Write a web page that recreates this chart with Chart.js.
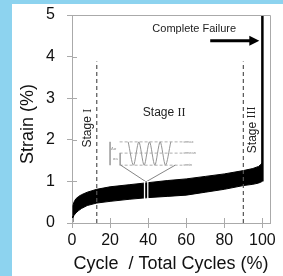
<!DOCTYPE html>
<html>
<head>
<meta charset="utf-8">
<script src="https://cdn.jsdelivr.net/npm/chart.js@4.4.1/dist/chart.umd.min.js"></script>
<style>
html, body { margin: 0; padding: 0; background: #8dd3ef; }
body { width: 283px; height: 276px; overflow: hidden; position: relative; }
#panel { position: absolute; left: 12px; top: 4px; width: 271px; height: 272px; background: #fff; }
</style>
</head>
<body>
<div id="panel"><canvas id="strain-chart" width="271" height="272" style="width:271px;height:272px"></canvas></div>
<script>
const FONT = "'Liberation Sans', Arial, sans-serif";

// band of strain (min / max of each cycle) vs life fraction
const cycles      = [0, 0.5, 1, 2, 3.5, 5, 8, 13, 20, 30, 40, 50, 60, 70, 80, 90, 95, 98, 99.5, 100];
const strainUpper = [0.15, 0.42, 0.5, 0.58, 0.64, 0.68, 0.74, 0.81, 0.87, 0.92, 0.97, 1.02, 1.06, 1.12, 1.18, 1.26, 1.31, 1.36, 1.42, 1.45];
const strainLower = [0.02, 0.12, 0.18, 0.24, 0.30, 0.35, 0.42, 0.48, 0.52, 0.57, 0.61, 0.64, 0.67, 0.74, 0.81, 0.90, 0.93, 0.96, 0.99, 1.0];

const failureCycle = [100, 100];
const failureStrain = [1.0, 5.0];

const stageBounds = [13, 90];
const stageLineTop = 3.88;

const xTicks = [0, 20, 40, 60, 80, 100];
const yTicks = [0, 1, 2, 3, 4, 5];

// little loading schematic
const insetLevels = [1.95, 1.68, 1.39];
const insetLabels = ['\u03c3max', '\u03c3mean', '\u03c3min'];
const insetSpan = [25, 58];
const waveCycle  = [29.5, 32.3, 35.1, 37.9, 40.7, 43.5, 46.3, 49.1, 51.9];
const waveStrain = [1.95, 1.39, 1.95, 1.39, 1.95, 1.39, 1.95, 1.39, 1.95];
const cutCycles = [38.1, 39.8];
const zoomApex = [38.9, 0.99];
const zoomEnds = [25.6, 54.2];

const arrowFrom = [72.6, 4.38];
const arrowTo = [98.4, 4.38];

function pts(xs, ys) {
    return xs.map((x, i) => ({ x: x, y: ys[i] }));
}

function lineSet(data, color, width, dash) {
    return {
        data: data,
        showLine: true,
        borderColor: color,
        borderWidth: width,
        borderDash: dash || [],
        pointRadius: 0,
        fill: false,
        tension: 0
    };
}

const datasets = [];
// overlays first so they end up on top
cutCycles.forEach(c => datasets.push(lineSet(pts([c, c], [0.55, zoomApex[1] + 0.02]), '#ffffff', 1.3)));
zoomEnds.forEach(c => datasets.push(lineSet(pts([zoomApex[0], c], [zoomApex[1], insetLevels[2]]), '#666', 0.8)));
insetLevels.forEach(v => datasets.push(lineSet(pts(insetSpan, [v, v]), '#999', 0.8, [3, 2])));
datasets.push(Object.assign(lineSet(pts(waveCycle, waveStrain), '#888', 0.9), { tension: 0.3 }));
datasets.push(lineSet(pts([20, 20], [insetLevels[0], insetLevels[2]]), '#999', 0.8));
datasets.push(lineSet(pts([25.3, 25.3], [insetLevels[1], insetLevels[2]]), '#999', 0.8));
stageBounds.forEach(c => datasets.push(lineSet(pts([c, c], [0, stageLineTop]), '#555', 1.2, [4, 3])));
datasets.push(lineSet(pts(failureCycle, failureStrain), '#000', 2.5));
datasets.push(lineSet(pts(cycles, strainLower), '#000', 1));
datasets.push(Object.assign(lineSet(pts(cycles, strainUpper), '#000', 1), { fill: '-1', backgroundColor: '#000' }));

const decorations = {
    id: 'decorations',
    afterDraw(chart) {
        const ctx = chart.ctx;
        const xs = chart.scales.x, ys = chart.scales.y;
        const area = chart.chartArea;
        const X = v => xs.getPixelForValue(v);
        const Y = v => ys.getPixelForValue(v);
        ctx.save();

        // frame and inward tick marks
        ctx.strokeStyle = '#aaa';
        ctx.lineWidth = 1;
        ctx.beginPath();
        ctx.moveTo(area.left, area.top + 0.5);
        ctx.lineTo(area.right + 0.5, area.top + 0.5);
        ctx.lineTo(area.right + 0.5, area.bottom);
        xTicks.forEach(v => { ctx.moveTo(Math.round(X(v)) + 0.5, area.bottom); ctx.lineTo(Math.round(X(v)) + 0.5, area.bottom - 5); });
        yTicks.forEach(v => { ctx.moveTo(area.left, Math.round(Y(v)) + 0.5); ctx.lineTo(area.left + 5, Math.round(Y(v)) + 0.5); });
        ctx.stroke();

        // y axis title
        ctx.save();
        ctx.fillStyle = '#111';
        ctx.font = '18px ' + FONT;
        ctx.textAlign = 'center';
        ctx.textBaseline = 'middle';
        ctx.translate(area.left - 44, (area.top + area.bottom) / 2 + 5);
        ctx.rotate(-Math.PI / 2);
        ctx.fillText('Strain (%)', 0, 0);
        ctx.restore();

        // arrow to the failure line
        ctx.strokeStyle = '#000';
        ctx.fillStyle = '#000';
        ctx.lineWidth = 3;
        ctx.beginPath();
        ctx.moveTo(X(arrowFrom[0]), Y(arrowFrom[1]));
        ctx.lineTo(X(arrowTo[0]) - 8, Y(arrowTo[1]));
        ctx.stroke();
        ctx.beginPath();
        ctx.moveTo(X(arrowTo[0]), Y(arrowTo[1]));
        ctx.lineTo(X(arrowTo[0]) - 10, Y(arrowTo[1]) - 5);
        ctx.lineTo(X(arrowTo[0]) - 10, Y(arrowTo[1]) + 5);
        ctx.closePath();
        ctx.fill();

        ctx.fillStyle = '#222';
        ctx.textBaseline = 'middle';
        ctx.textAlign = 'center';
        ctx.font = '11px ' + FONT;
        ctx.fillText('Complete Failure', X(64.2), Y(4.66));

        // stage labels: sans "Stage" + serif roman numeral
        function stage(num, cx, cy, rotate) {
            ctx.save();
            ctx.translate(X(cx), Y(cy));
            if (rotate) ctx.rotate(-Math.PI / 2);
            ctx.font = '12px ' + FONT;
            const a = ctx.measureText('Stage ').width;
            ctx.font = '12px "Liberation Serif", serif';
            const b = ctx.measureText(num).width;
            const x0 = -(a + b) / 2;
            ctx.textAlign = 'left';
            ctx.font = '12px ' + FONT;
            ctx.fillText('Stage ', x0, 0);
            ctx.font = '12px "Liberation Serif", serif';
            ctx.fillText(num, x0 + a, 0);
            ctx.restore();
        }
        stage('I', 8.4, 2.28, true);
        stage('II', 48.4, 2.64, false);
        stage('III', 94.7, 2.24, true);

        // tiny labels of the schematic
        ctx.fillStyle = '#888';
        ctx.textAlign = 'left';
        ctx.font = '4px ' + FONT;
        insetLevels.forEach((v, i) => ctx.fillText(insetLabels[i], X(insetSpan[1]) + 1, Y(v)));
        ctx.fillText('\u0394\u03c3', X(20) + 1, Y(1.78));
        ctx.fillText('\u03c3a', X(21.5), Y(1.55));
        ctx.restore();
    }
};

new Chart(document.getElementById('strain-chart').getContext('2d'), {
    type: 'scatter',
    data: { datasets: datasets },
    options: {
        responsive: false,
        animation: false,
        layout: { padding: { top: 11, right: 13, left: 0, bottom: 0 } },
        plugins: {
            legend: { display: false },
            tooltip: { enabled: false }
        },
        scales: {
            x: {
                type: 'linear',
                min: 0,
                max: 104,
                afterBuildTicks: s => { s.ticks = xTicks.map(v => ({ value: v })); },
                afterFit: s => { s.height = 53; s.paddingLeft = 0; s.paddingRight = 0; },
                grid: { drawOnChartArea: false, tickLength: 5, color: '#aaa' },
                border: { color: '#aaa' },
                ticks: { color: '#111', padding: 3, maxRotation: 0, font: { size: 16, family: FONT } },
                title: {
                    display: true,
                    text: 'Cycle  / Total Cycles (%)',
                    color: '#111',
                    font: { size: 18, family: FONT },
                    padding: { top: 0, bottom: 1 }
                }
            },
            y: {
                type: 'linear',
                min: 0,
                max: 5,
                afterBuildTicks: s => { s.ticks = yTicks.map(v => ({ value: v })); },
                afterFit: s => { s.width = 60; s.paddingTop = 0; s.paddingBottom = 0; },
                grid: { drawOnChartArea: false, tickLength: 5, color: '#aaa' },
                border: { color: '#aaa' },
                ticks: { color: '#111', padding: 12, font: { size: 16, family: FONT } }
            }
        }
    },
    plugins: [decorations]
});
</script>
</body>
</html>
